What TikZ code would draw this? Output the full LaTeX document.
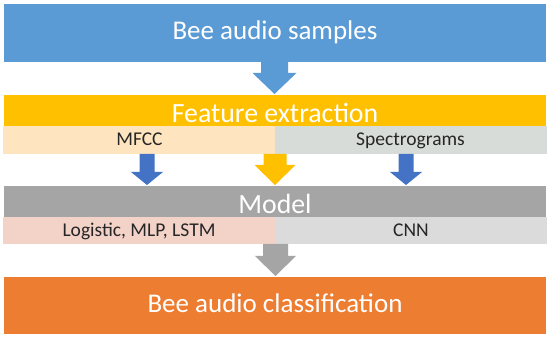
\documentclass[tikz,border=0pt]{standalone}
\usepackage{fontspec}
\setmainfont{Carlito}
\usetikzlibrary{calc}
\definecolor{cblue}{HTML}{5B9BD5}
\definecolor{cyellow}{HTML}{FFC000}
\definecolor{cpeach}{HTML}{FEE5BF}
\definecolor{cgreyg}{HTML}{D8DCD9}
\definecolor{cgray}{HTML}{A5A5A5}
\definecolor{cpink}{HTML}{F3D2C8}
\definecolor{clgray}{HTML}{DBDBDB}
\definecolor{corange}{HTML}{ED7D31}
\definecolor{cdblue}{HTML}{4472C4}
\newcommand\barrow[6]{%
  \fill[#1] let \p1=(#2), \p2=(#3) in
    (\x1-#4,\y1) -- (\x1-#4,\y2+#6) -- (\x1-#5,\y2+#6) -- (\x1,\y2)
    -- (\x1+#5,\y2+#6) -- (\x1+#4,\y2+#6) -- (\x1+#4,\y1) -- cycle;}
\begin{document}
\begin{tikzpicture}[x=1pt,y=1pt,
  band/.style={rectangle, inner sep=0pt, outer sep=0pt, draw=none},
  bigtxt/.style={inner sep=0pt, anchor=base, text=white, font=\fontsize{27}{32}\selectfont},
  midtxt/.style={bigtxt, font=\fontsize{27.8}{33}\selectfont},
  smalltxt/.style={inner sep=0pt, anchor=base, text=black!85, font=\fontsize{19.5}{23}\selectfont}]
\useasboundingbox (0,0) rectangle (550,-339);
\fill[white] (0,0) rectangle (550,-339);
% boxes
\node[band, fill=cblue, minimum width=542, minimum height=58] (top) at (275,-33) {};
\node[band, fill=cyellow, minimum width=542, minimum height=31] (feat) at (275,-110.5) {};
\node[band, fill=cpeach, minimum width=272, minimum height=28] (mfcc) at (139,-140) {};
\node[band, fill=cgreyg, minimum width=272, minimum height=28] (spec) at (411,-140) {};
\node[band, fill=cgray, minimum width=542, minimum height=31] (model) at (275,-201.5) {};
\node[band, fill=cpink, minimum width=272, minimum height=27] (logi) at (139,-230.5) {};
\node[band, fill=clgray, minimum width=272, minimum height=27] (cnn) at (411,-230.5) {};
\node[band, fill=corange, minimum width=542, minimum height=57] (out) at (275,-305.5) {};
% texts
\node[bigtxt] (toptxt) at (275,-40) {Bee audio samples};
\node[midtxt] (feattxt) at (275,-123) {Feature extraction};
\node[smalltxt] (mfcctxt) at (139.5,-146) {MFCC};
\node[smalltxt] (spectxt) at (410.5,-146) {Spectrograms};
\node[midtxt] (modeltxt) at (275,-214) {Model};
\node[smalltxt] (logitxt) at (139,-237) {Logistic, MLP, LSTM};
\node[smalltxt] (cnntxt) at (411,-237) {CNN};
\node[bigtxt] (outtxt) at (275,-313) {Bee audio classification};
% block arrows
\coordinate (a1s) at ($(top.south)+(-0.5,0)$);
\coordinate (a1e) at ($(feat.north)+(-0.5,1)$);
\barrow{cblue}{a1s}{a1e}{13.5pt}{22pt}{21pt}
\coordinate (a2s) at ($(mfcc.south east)+(0,0)$);
\coordinate (a2e) at ($(model.north)+(0,1)$);
\barrow{cyellow}{a2s}{a2e}{11.5pt}{20.5pt}{20pt}
\coordinate (a3s) at ($(mfcc.south)+(8,0)$);
\coordinate (a3e) at ($(model.north)+(-128,1)$);
\barrow{cdblue}{a3s}{a3e}{7.5pt}{16pt}{13pt}
\coordinate (a4s) at ($(spec.south)+(-5,0)$);
\coordinate (a4e) at ($(model.north)+(131,1)$);
\barrow{cdblue}{a4s}{a4e}{7.5pt}{16pt}{13pt}
\coordinate (a5s) at ($(logi.south east)+(0.5,0)$);
\coordinate (a5e) at ($(out.north)+(0.5,1)$);
\barrow{cgray}{a5s}{a5e}{12.5pt}{20.5pt}{20pt}
\end{tikzpicture}
\end{document}
